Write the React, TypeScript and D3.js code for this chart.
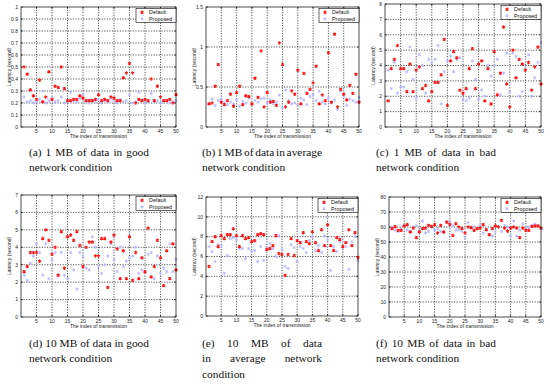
import { useEffect, useRef } from "react";
import * as d3 from "d3";

// transmission index 1..50
const runs = d3.range(1, 51);

// (a) 1 MB, good network
const aDefault = [0.50,0.44,0.31,0.26,0.23,0.39,0.21,0.25,0.46,0.23,0.34,0.33,0.50,0.32,0.22,0.22,0.23,0.23,0.26,0.24,0.22,0.22,0.22,0.23,0.27,0.22,0.23,0.22,0.25,0.24,0.22,0.22,0.41,0.45,0.53,0.45,0.20,0.23,0.22,0.23,0.22,0.40,0.22,0.34,0.25,0.22,0.22,0.23,0.20,0.27];
const aProposed = [0.25,0.21,0.22,0.20,0.21,0.23,0.30,0.20,0.22,0.24,0.21,0.22,0.25,0.20,0.21,0.29,0.22,0.21,0.24,0.27,0.21,0.20,0.22,0.21,0.23,0.20,0.22,0.21,0.24,0.22,0.20,0.23,0.21,0.22,0.27,0.20,0.21,0.29,0.22,0.20,0.21,0.28,0.21,0.22,0.20,0.21,0.22,0.20,0.21,0.22];

// (b) 1 MB, average network
const bDefault = [0.29,0.30,0.51,0.78,0.31,0.28,0.33,0.41,0.26,0.43,0.51,0.28,0.39,0.38,0.29,0.61,0.37,0.95,0.25,0.43,0.31,0.32,0.27,1.05,0.78,0.25,0.31,0.45,0.41,0.71,0.29,0.67,0.42,0.47,0.55,0.76,0.29,0.40,0.33,0.93,0.31,1.16,0.25,0.47,0.41,0.34,0.52,0.42,0.66,0.31];
const bProposed = [0.29,0.35,0.27,0.33,0.35,0.30,0.28,0.31,0.29,0.34,0.26,0.32,0.30,0.36,0.28,0.33,0.31,0.35,0.36,0.30,0.34,0.29,0.31,0.40,0.24,0.46,0.33,0.29,0.30,0.27,0.36,0.34,0.28,0.38,0.40,0.33,0.45,0.31,0.29,0.36,0.30,0.34,0.22,0.45,0.38,0.27,0.35,0.33,0.31,0.37];

// (c) 1 MB, bad network
const cDefault = [1.7,3.8,4.4,5.3,3.8,3.8,2.3,4.1,2.3,3.7,3.9,2.5,2.7,1.7,2.3,2.9,2.9,3.4,5.7,1.4,4.3,4.9,4.5,2.4,2.2,2.5,3.8,5.1,2.5,4.1,4.3,1.7,3.8,1.5,4.9,2.1,3.5,6.5,2.8,1.3,5.0,3.2,4.4,4.1,3.7,4.2,2.4,3.9,5.2,2.8];
const cProposed = [3.7,2.5,4.2,2.2,2.6,2.6,3.6,5.2,3.1,1.9,4.7,4.0,2.2,4.4,4.2,4.4,5.3,1.5,3.6,4.3,4.6,3.6,4.4,4.5,1.8,1.7,1.9,4.3,3.1,1.8,2.4,2.0,4.0,3.3,4.0,4.4,2.1,3.5,4.8,2.3,4.8,4.6,2.0,2.3,3.8,4.7,2.0,3.2,4.2,5.5];

// (d) 10 MB, good network
const dDefault = [2.6,2.9,3.7,3.7,3.7,3.2,4.5,5.0,4.4,3.6,4.0,2.4,4.9,2.8,4.6,4.7,4.4,4.9,4.1,2.9,4.0,4.3,4.3,3.5,3.5,4.5,4.5,1.7,4.3,4.7,3.9,2.2,3.8,2.2,4.6,2.1,3.7,2.2,3.4,2.6,5.1,2.3,2.9,4.4,3.4,1.8,3.8,2.2,4.2,2.7];
const dProposed = [2.4,2.1,3.1,3.5,4.2,3.7,2.4,4.2,2.2,3.3,3.7,2.4,3.7,2.4,2.2,3.7,2.7,1.6,3.7,3.5,2.8,2.7,4.6,4.0,2.9,2.5,3.0,3.5,4.2,3.3,2.6,4.0,2.9,3.2,3.4,3.5,4.0,2.5,2.7,2.6,3.6,3.7,2.2,3.5,2.5,2.8,2.6,4.2,2.6,3.3];

// (e) 10 MB, average network
const eDefault = [5.0,7.5,8.0,7.0,8.1,7.8,8.2,8.2,8.8,8.1,7.0,8.1,7.8,7.9,7.5,7.6,8.2,8.3,8.2,6.7,6.8,7.1,8.1,6.3,6.2,4.1,6.2,7.8,6.1,7.6,7.4,8.4,7.5,7.3,8.5,7.4,6.6,8.7,7.1,9.2,7.1,6.6,7.9,7.7,7.0,7.4,8.7,7.1,8.4,5.9];
const eProposed = [7.0,6.5,5.5,7.2,7.0,4.3,6.1,7.8,7.9,7.7,6.8,6.8,5.8,6.8,6.5,6.6,5.5,7.0,5.6,6.9,7.3,6.8,6.0,8.1,6.7,5.0,4.8,7.2,6.9,5.5,7.0,6.8,6.4,7.6,8.0,6.6,7.1,6.4,8.1,7.7,4.6,7.0,6.5,7.5,6.9,7.0,4.7,7.5,8.0,5.6];

// (f) 10 MB, bad network
const fDefault = [58.9,60.2,57.8,57.8,60.7,61.6,56.7,59.3,52.9,56.7,58.9,59.3,61.1,60.4,61.6,56.0,61.1,56.7,63.3,61.8,54.4,62.2,60.0,58.9,56.0,60.0,59.6,57.8,58.9,59.3,61.6,58.2,54.9,58.9,60.7,60.0,64.4,59.3,57.3,59.3,60.0,59.3,52.9,59.3,57.8,57.8,60.4,60.7,60.7,59.3];
const fProposed = [60,58,57,59,61,58,57,60,61,58,64,56,57,60,58,59,57,56,63,64,61,58,58,57,53,63,60,60,59,61,56,58,55,54,57,60,57,61,60,54,64,54,58,62,59,60,61,62,61,59];

const yMaxes = [1, 1.5, 8, 7, 12, 80];
const ySteps = [0.1, 0.5, 1, 1, 2, 10];
const xTicks = [5, 10, 15, 20, 25, 30, 35, 40, 45, 50];
const seriesNames = ["Default", "Proposed"];

const captions = [
  ["(a) 1 MB of data in good", "network condition"],
  ["(b) 1 MB of data in average", "network condition"],
  ["(c) 1 MB of data in bad", "network condition"],
  ["(d) 10 MB of data in good", "network condition"],
  ["(e) 10 MB of data", "in average network", "condition"],
  ["(f) 10 MB of data in bad", "network condition"],
];

const defaults = [aDefault, bDefault, cDefault, dDefault, eDefault, fDefault];
const proposeds = [aProposed, bProposed, cProposed, dProposed, eProposed, fProposed];

// plot frames in page pixels
const frames = [
  { x0: 21, y0: 7, x1: 176, y1: 127 },
  { x0: 206, y0: 7, x1: 359, y1: 127 },
  { x0: 385, y0: 4, x1: 541, y1: 127 },
  { x0: 21, y0: 195, x1: 176, y1: 317 },
  { x0: 206, y0: 197, x1: 358, y1: 316 },
  { x0: 389, y0: 197, x1: 541, y1: 317 },
];
const captionPos = [
  { x: 29, y: 155.5 },
  { x: 202, y: 155.5 },
  { x: 376, y: 155.5 },
  { x: 29, y: 346.5 },
  { x: 202, y: 346.5 },
  { x: 376, y: 346.5 },
];

const RED = "#ff1414";
const BLUE = "#b4b8ff";
const SANS = "'Liberation Sans', Arial, sans-serif";
const SERIF = "'Liberation Serif', 'Times New Roman', serif";

const App = () => {
  const svgRef = useRef(null);

  useEffect(() => {
    const svg = d3.select(svgRef.current);
    svg.selectAll("*").remove();

    const canvas = document.createElement("canvas");
    const ctx = canvas.getContext("2d");
    const capSize = 11.4;
    ctx.font = `${capSize}px 'Liberation Serif'`;

    const starRed = d3.symbol(d3.symbolAsterisk, 8);
    const starBlue = d3.symbol(d3.symbolAsterisk, 7);

    frames.forEach((fr, k) => {
      const x = d3.scaleLinear().domain([0, 50]).range([fr.x0, fr.x1]);
      const y = d3.scaleLinear().domain([0, yMaxes[k]]).range([fr.y1, fr.y0]);
      const yTicks = d3.range(0, yMaxes[k] + ySteps[k] / 2, ySteps[k]);
      const fmt = (v) => String(+v.toFixed(2));

      const g = svg.append("g");
      g.append("rect")
        .attr("x", fr.x0).attr("y", fr.y0)
        .attr("width", fr.x1 - fr.x0).attr("height", fr.y1 - fr.y0)
        .attr("fill", "#fff");

      // dotted grid
      const grid = g.append("g")
        .attr("stroke", "#111").attr("stroke-width", 0.7)
        .attr("stroke-dasharray", "1.2,1.4");
      grid.selectAll(".vx").data(xTicks.slice(0, -1)).join("line")
        .attr("x1", (d) => x(d)).attr("x2", (d) => x(d))
        .attr("y1", fr.y0).attr("y2", fr.y1);
      grid.selectAll(".hy").data(yTicks.slice(1, -1)).join("line")
        .attr("x1", fr.x0).attr("x2", fr.x1)
        .attr("y1", (d) => y(d)).attr("y2", (d) => y(d));

      // inward ticks on all sides
      const ticks = g.append("g").attr("stroke", "#000").attr("stroke-width", 0.6);
      xTicks.forEach((t) => {
        ticks.append("line").attr("x1", x(t)).attr("x2", x(t)).attr("y1", fr.y1).attr("y2", fr.y1 - 2);
        ticks.append("line").attr("x1", x(t)).attr("x2", x(t)).attr("y1", fr.y0).attr("y2", fr.y0 + 2);
      });
      yTicks.forEach((t) => {
        ticks.append("line").attr("x1", fr.x0).attr("x2", fr.x0 + 2).attr("y1", y(t)).attr("y2", y(t));
        ticks.append("line").attr("x1", fr.x1).attr("x2", fr.x1 - 2).attr("y1", y(t)).attr("y2", y(t));
      });

      // markers
      g.append("g").selectAll("path").data(proposeds[k]).join("path")
        .attr("d", starBlue)
        .attr("transform", (d, i) => `translate(${x(runs[i])},${y(d)})`)
        .attr("fill", "none").attr("stroke", BLUE).attr("stroke-width", 1)
        .attr("opacity", 0.9);
      g.append("g").selectAll("path").data(defaults[k]).join("path")
        .attr("d", starRed)
        .attr("transform", (d, i) => `translate(${x(runs[i])},${y(d)})`)
        .attr("fill", "none").attr("stroke", RED).attr("stroke-width", 1.1);

      g.append("rect")
        .attr("x", fr.x0).attr("y", fr.y0)
        .attr("width", fr.x1 - fr.x0).attr("height", fr.y1 - fr.y0)
        .attr("fill", "none").attr("stroke", "#000").attr("stroke-width", 0.7);

      // tick labels
      g.append("g").selectAll("text").data(xTicks).join("text")
        .attr("x", (d) => x(d)).attr("y", fr.y1 + 5.5)
        .attr("text-anchor", "middle").attr("font-size", 5)
        .attr("font-family", SANS).attr("fill", "#222")
        .text((d) => d);
      g.append("g").selectAll("text").data(yTicks).join("text")
        .attr("x", fr.x0 - 3).attr("y", (d) => y(d) + 1.8)
        .attr("text-anchor", "end").attr("font-size", 5)
        .attr("font-family", SANS).attr("fill", "#222")
        .text(fmt);

      g.append("text")
        .attr("x", (fr.x0 + fr.x1) / 2).attr("y", fr.y1 + 11)
        .attr("text-anchor", "middle").attr("font-size", 5)
        .attr("font-family", SANS).attr("fill", "#222")
        .text("The index of transmission");
      g.append("text")
        .attr("transform", `translate(${fr.x0 - 10},${(fr.y0 + fr.y1) / 2}) rotate(-90)`)
        .attr("text-anchor", "middle").attr("font-size", 5)
        .attr("font-family", SANS).attr("fill", "#222")
        .text("Latency (second)");

      // legend
      const lw = 40, lh = 14;
      const lx = fr.x1 - lw, ly = fr.y0 + 1.3;
      const leg = g.append("g");
      leg.append("rect").attr("x", lx).attr("y", ly).attr("width", lw).attr("height", lh)
        .attr("fill", "#fff").attr("stroke", "#000").attr("stroke-width", 0.6);
      seriesNames.forEach((name, i) => {
        const cy = ly + 4 + i * 6.5;
        leg.append("path")
          .attr("d", i === 0 ? starRed : starBlue)
          .attr("transform", `translate(${lx + 6},${cy})`)
          .attr("fill", "none").attr("stroke", i === 0 ? RED : BLUE)
          .attr("stroke-width", i === 0 ? 1.1 : 1);
        leg.append("text")
          .attr("x", lx + 13).attr("y", cy + 1.8)
          .attr("font-size", 5.4).attr("font-family", SANS).attr("fill", "#111")
          .text(name);
      });

      // caption, justified except last line
      const cp = captionPos[k];
      const width = 120;
      const lines = captions[k];
      lines.forEach((line, li) => {
        const ty = cp.y + li * 15.6;
        const words = line.split(" ");
        if (li === lines.length - 1 || words.length < 2) {
          g.append("text").attr("x", cp.x).attr("y", ty)
            .attr("font-size", capSize).attr("font-family", SERIF).attr("fill", "#111")
            .text(line);
          return;
        }
        const widths = words.map((w) => ctx.measureText(w).width);
        const gap = (width - d3.sum(widths)) / (words.length - 1);
        let cx = cp.x;
        words.forEach((w, wi) => {
          g.append("text").attr("x", cx).attr("y", ty)
            .attr("font-size", capSize).attr("font-family", SERIF).attr("fill", "#111")
            .text(w);
          cx += widths[wi] + gap;
        });
      });
    });

    return () => {
      svg.selectAll("*").remove();
    };
  }, []);

  return (
    <svg
      ref={svgRef}
      width={550}
      height={384}
      style={{ position: "absolute", left: 0, top: 0, background: "#fff" }}
    ></svg>
  );
};

export default App;
